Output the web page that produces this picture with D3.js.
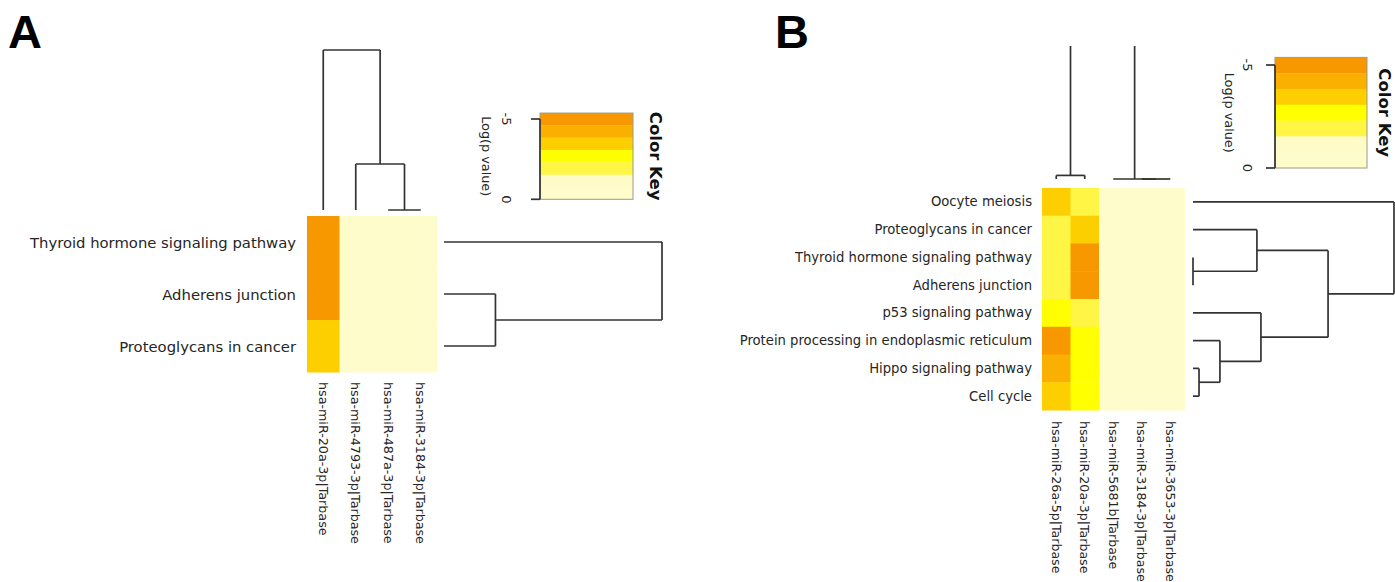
<!DOCTYPE html>
<html><head><meta charset="utf-8">
<script src="https://cdn.jsdelivr.net/npm/d3@7"></script>
<style>body{margin:0;background:#fff} svg{display:block}</style>
</head><body><svg id="chart" width="1395" height="582"></svg>
<script>
// ---------- DATA ----------
const pathwaysA = ["Thyroid hormone signaling pathway", "Adherens junction", "Proteoglycans in cancer"];
const mirnasA = ["hsa-miR-20a-3p|Tarbase", "hsa-miR-4793-3p|Tarbase", "hsa-miR-487a-3p|Tarbase", "hsa-miR-3184-3p|Tarbase"];
// log(p value), rows = pathways, cols = miRNAs
const logpA = [
  [-4.9, 0, 0, 0],
  [-4.9, 0, 0, 0],
  [-3.4, 0, 0, 0]
];
const pathwaysB = ["Oocyte meiosis", "Proteoglycans in cancer", "Thyroid hormone signaling pathway", "Adherens junction",
  "p53 signaling pathway", "Protein processing in endoplasmic reticulum", "Hippo signaling pathway", "Cell cycle"];
const mirnasB = ["hsa-miR-26a-5p|Tarbase", "hsa-miR-20a-3p|Tarbase", "hsa-miR-5681b|Tarbase", "hsa-miR-3184-3p|Tarbase", "hsa-miR-3653-3p|Tarbase"];
const logpB = [
  [-3.4, -1.9, 0, 0, 0],
  [-1.9, -3.4, 0, 0, 0],
  [-1.9, -5.0, 0, 0, 0],
  [-1.9, -5.0, 0, 0, 0],
  [-2.6, -1.8, 0, 0, 0],
  [-4.8, -2.6, 0, 0, 0],
  [-4.2, -2.6, 0, 0, 0],
  [-3.5, -2.6, 0, 0, 0]
];
// colour key
const keyMin = -5.37;
const keyBreaks = [-4.6, -3.84, -3.07, -2.3, -1.53, -0.77];
const keyColors = ["#F79800", "#FAB000", "#FDCF00", "#FFFF00", "#FFF545", "#FFFBC6", "#FFFCCB"];
const keyTicks = [-5, 0];
const keyTitle = "Color Key";
const keyAxisLabel = "Log(p value)";
// dendrograms (h = merge height, c = children; numbers = leaf index)
const rowTreeA = {h: 10, c: [0, {h: 2.36, c: [1, 2]}]};
const colTreeA = {h: 10, c: [0, {h: 2.875, c: [1, {h: 0, c: [2, 3]}]}]};
const rowTreeB = {h: 10, c: [0, {h: 6.72, c: [
  {h: 3.18, c: [1, {h: 0, c: [2, 3]}]},
  {h: 3.38, c: [4, {h: 1.34, c: [5, {h: 0.3, c: [6, 7]}]}]}
]}]};
const colTreeB = {h: 14, c: [{h: 0.27, c: [0, 1]}, {h: 0, c: [2, {h: 0, c: [3, 4]}]}]};

// ---------- DRAW ----------
const svg = d3.select("#chart");
const colorScale = d3.scaleThreshold().domain(keyBreaks).range(keyColors);
const LINE = "#333";
const FONT = "DejaVu Sans, sans-serif";
const TXT = "#262626";

const defs = svg.append("defs");

function drawPanel(cfg) {
  const g = svg.append("g");
  // panel letter
  g.append("text").attr("x", cfg.letterX).attr("y", 48)
    .attr("font-family", "Liberation Sans, Arial, sans-serif").attr("font-weight", "bold")
    .attr("font-size", 47).attr("fill", "#000").text(cfg.letter);

  const x = d3.scaleBand().domain(d3.range(cfg.cols.length)).range(cfg.hx).padding(0);
  const y = d3.scaleBand().domain(d3.range(cfg.rows.length)).range(cfg.hy).padding(0);

  // cells
  const cells = [];
  cfg.values.forEach((row, i) => row.forEach((v, j) => cells.push({i, j, v})));
  g.append("g").selectAll("rect").data(cells).join("rect")
    .attr("x", d => x(d.j)).attr("y", d => y(d.i))
    .attr("width", x.bandwidth() + 0.5).attr("height", y.bandwidth() + 0.5)
    .attr("fill", d => colorScale(d.v));

  // row labels
  g.append("g").selectAll("text").data(cfg.rows).join("text")
    .attr("x", cfg.hx[0] - cfg.rowLabelGap).attr("y", (d, i) => y(i) + y.bandwidth() / 2)
    .attr("text-anchor", "end").attr("dominant-baseline", "central")
    .attr("font-family", FONT).attr("font-size", cfg.rowFont).attr("fill", TXT).text(d => d);

  // column labels (rotated)
  g.append("g").selectAll("text").data(cfg.cols).join("text")
    .attr("transform", (d, j) => `translate(${x(j) + x.bandwidth() / 2},${cfg.hy[1] + cfg.colLabelGap}) rotate(90)`)
    .attr("text-anchor", "start").attr("dominant-baseline", "central")
    .attr("font-family", FONT).attr("font-size", cfg.colFont).attr("fill", TXT).text(d => d);

  // column dendrogram
  const clipId = "clip" + cfg.letter;
  defs.append("clipPath").attr("id", clipId).append("rect")
    .attr("x", 0).attr("y", cfg.colDendroClipTop).attr("width", 1395).attr("height", 600);
  const hCol = d3.scaleLinear().domain([0, 10]).range(cfg.colDendroRange);
  const cg = g.append("g").attr("clip-path", `url(#${clipId})`)
    .attr("stroke", LINE).attr("stroke-width", 1.7).attr("fill", "none");
  function colNode(n) {
    if (typeof n === "number") return {p: x(n) + x.bandwidth() / 2, h: 0};
    const kids = n.c.map(colNode);
    const hy = hCol(n.h);
    kids.forEach(k => cg.append("line").attr("x1", k.p).attr("x2", k.p).attr("y1", hCol(k.h)).attr("y2", hy));
    cg.append("line").attr("x1", kids[0].p).attr("x2", kids[kids.length - 1].p).attr("y1", hy).attr("y2", hy);
    return {p: d3.mean(kids, k => k.p), h: n.h};
  }
  colNode(cfg.colTree);

  // row dendrogram
  const hRow = d3.scaleLinear().domain([0, 10]).range(cfg.rowDendroRange);
  const rg = g.append("g").attr("stroke", LINE).attr("stroke-width", 1.7).attr("fill", "none");
  function rowNode(n) {
    if (typeof n === "number") return {p: y(n) + y.bandwidth() / 2, h: 0};
    const kids = n.c.map(rowNode);
    const hx = hRow(n.h);
    kids.forEach(k => rg.append("line").attr("y1", k.p).attr("y2", k.p).attr("x1", hRow(k.h)).attr("x2", hx));
    rg.append("line").attr("y1", kids[0].p).attr("y2", kids[kids.length - 1].p).attr("x1", hx).attr("x2", hx);
    return {p: d3.mean(kids, k => k.p), h: n.h};
  }
  rowNode(cfg.rowTree);

  // colour key
  const ky = d3.scaleLinear().domain([keyTicks[0], keyTicks[1]]).range(cfg.keyTickY);
  const bounds = [keyMin, ...keyBreaks, 0];
  const bands = keyColors.map((c, i) => ({c, a: bounds[i], b: bounds[i + 1]}));
  const kg = g.append("g");
  kg.selectAll("rect.band").data(bands).join("rect").attr("class", "band")
    .attr("x", cfg.keyX[0]).attr("width", cfg.keyX[1] - cfg.keyX[0])
    .attr("y", d => ky(d.a)).attr("height", d => ky(d.b) - ky(d.a) + 0.3)
    .attr("fill", d => d.c);
  kg.append("rect").attr("x", cfg.keyX[0]).attr("y", ky(keyMin))
    .attr("width", cfg.keyX[1] - cfg.keyX[0]).attr("height", ky(0) - ky(keyMin))
    .attr("fill", "none").attr("stroke", "#9a9a8a").attr("stroke-width", 1);
  kg.append("line").attr("x1", cfg.keyX[0]).attr("x2", cfg.keyX[0])
    .attr("y1", ky(keyTicks[0])).attr("y2", ky(keyTicks[1]))
    .attr("stroke", LINE).attr("stroke-width", 1.7);
  kg.selectAll("line.tick").data(keyTicks).join("line").attr("class", "tick")
    .attr("x1", cfg.keyX[0] - 9).attr("x2", cfg.keyX[0]).attr("y1", d => ky(d)).attr("y2", d => ky(d))
    .attr("stroke", LINE).attr("stroke-width", 1.7);
  kg.selectAll("text.tl").data(keyTicks).join("text").attr("class", "tl")
    .attr("transform", d => `translate(${cfg.keyTickLabelX},${ky(d)}) rotate(90)`)
    .attr("text-anchor", "middle").attr("dominant-baseline", "central")
    .attr("font-family", FONT).attr("font-size", 13).attr("fill", TXT).text(d => d);
  const kmid = (ky(keyMin) + ky(0)) / 2;
  kg.append("text").attr("transform", `translate(${cfg.keyLogX},${kmid}) rotate(90)`)
    .attr("text-anchor", "middle").attr("dominant-baseline", "central")
    .attr("font-family", FONT).attr("font-size", 12.8).attr("fill", TXT).text(keyAxisLabel);
  kg.append("text").attr("transform", `translate(${cfg.keyTitleX},${kmid}) rotate(90)`)
    .attr("text-anchor", "middle").attr("dominant-baseline", "central")
    .attr("font-family", FONT).attr("font-weight", "bold").attr("font-size", 16.5).attr("fill", "#111").text(keyTitle);
}

drawPanel({
  letter: "A", letterX: 8,
  rows: pathwaysA, cols: mirnasA, values: logpA,
  hx: [307, 437], hy: [216, 372],
  rowFont: 14.8, colFont: 12.7, rowLabelGap: 11, colLabelGap: 10,
  colTree: colTreeA, colDendroRange: [210, 50], colDendroClipTop: 0,
  rowTree: rowTreeA, rowDendroRange: [444, 662],
  keyX: [540, 633], keyTickY: [119, 199.3], keyTickLabelX: 506, keyLogX: 486, keyTitleX: 655
});
drawPanel({
  letter: "B", letterX: 775,
  rows: pathwaysB, cols: mirnasB, values: logpB,
  hx: [1042, 1184.5], hy: [188, 410],
  rowFont: 13.2, colFont: 12.6, rowLabelGap: 10, colLabelGap: 11,
  colTree: colTreeB, colDendroRange: [179, 46], colDendroClipTop: 46,
  rowTree: rowTreeB, rowDendroRange: [1193, 1394],
  keyX: [1275, 1367], keyTickY: [65, 168], keyTickLabelX: 1247, keyLogX: 1229, keyTitleX: 1384
});
</script></body></html>
